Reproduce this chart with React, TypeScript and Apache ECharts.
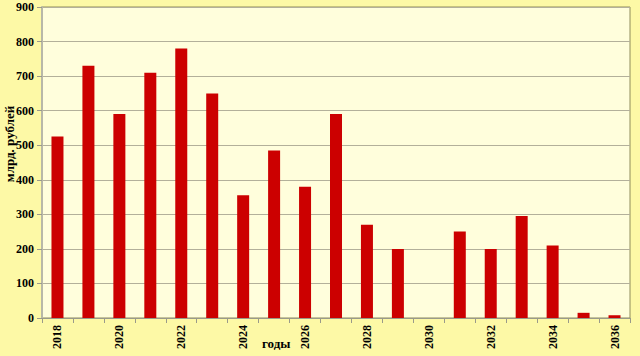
import React, { useEffect, useRef } from "react";
import * as echarts from "echarts";

const years = ["2018","2019","2020","2021","2022","2023","2024","2025","2026","2027","2028","2029","2030","2031","2032","2033","2034","2035","2036"];
const values = [525, 730, 590, 710, 780, 650, 355, 485, 380, 590, 270, 200, 0, 250, 200, 295, 210, 15, 8];
const yAxisName = "млрд. рублей";
const xAxisName = "годы";

export default function App() {
  const ref = useRef<HTMLDivElement>(null);
  useEffect(() => {
    const chart = echarts.init(ref.current!, null, { renderer: "svg" });
    const font = "'Liberation Serif', 'Times New Roman', serif";
    chart.setOption({
      animation: false,
      backgroundColor: "#FDF9A6",
      grid: {
        left: 42, right: 10, top: 7, bottom: 38,
        outerBoundsMode: "none",
        containLabel: false,
        show: true, backgroundColor: "#FFFEDC", borderColor: "#8E8C5A", borderWidth: 1,
      },
      xAxis: {
        type: "category",
        data: years,
        axisLine: { lineStyle: { color: "#9A9A8A" } },
        axisTick: { show: true, alignWithLabel: false, interval: 0, lineStyle: { color: "#9A9A8A" } },
        axisLabel: {
          interval: 1, rotate: 90, color: "#000", fontFamily: font, fontWeight: "bold", fontSize: 12, margin: 7,
        },
      },
      yAxis: {
        type: "value",
        min: 0, max: 900, interval: 100,
        axisLine: { show: true, lineStyle: { color: "#B8B8A8", width: 2 } },
        axisTick: { show: true, lineStyle: { color: "#9A9A8A" } },
        axisLabel: { color: "#000", fontFamily: font, fontWeight: "bold", fontSize: 12, margin: 8 },
        splitLine: { lineStyle: { color: "#B3B09A", width: 1.2 } },
      },
      graphic: [
        {
          type: "text", x: 262, y: 337,
          style: { text: xAxisName, fill: "#000", font: `bold 13px ${font}` },
        },
        {
          type: "text", x: 9, y: 144, rotation: Math.PI / 2,
          style: { text: yAxisName, fill: "#000", font: `bold 13px ${font}`, align: "center", verticalAlign: "middle" },
        },
      ],
      series: [
        {
          type: "bar",
          data: values,
          barWidth: 12,
          itemStyle: { color: "#CC0000" },
        },
      ],
    });
    return () => chart.dispose();
  }, []);
  return <div ref={ref} style={{ position: "fixed", left: 0, top: 0, width: 640, height: 356 }} />;
}
